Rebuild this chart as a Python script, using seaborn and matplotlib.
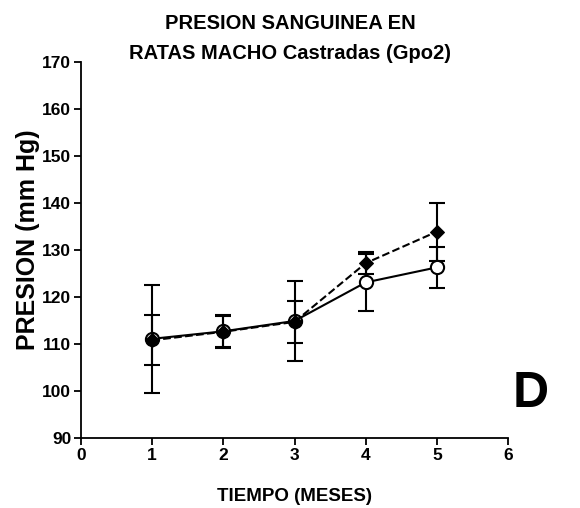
import matplotlib
matplotlib.use("Agg")
import matplotlib.pyplot as plt
import seaborn as sns
import pandas as pd

meses = [1, 2, 3, 4, 5]
circ_mean = [111.1, 112.7, 114.9, 123.1, 126.3]
circ_err = [11.5, 3.4, 8.6, 6.1, 4.4]
diam_mean = [110.8, 112.6, 114.7, 127.2, 133.9]
diam_err = [5.3, 3.4, 4.4, 2.4, 6.2]
xticks = [0, 1, 2, 3, 4, 5, 6]
yticks = [90, 100, 110, 120, 130, 140, 150, 160, 170]

sns.set_style("ticks")
plt.rcParams['font.family'] = ['Liberation Sans', 'DejaVu Sans']
plt.rcParams['font.weight'] = 'bold'
plt.rcParams['text.color'] = 'black'
plt.rcParams['axes.labelcolor'] = 'black'
plt.rcParams['xtick.color'] = 'black'
plt.rcParams['ytick.color'] = 'black'
plt.rcParams['axes.edgecolor'] = 'black'

fig = plt.figure(figsize=(5.8, 5.08), dpi=100)
ax = fig.add_axes([81/580, 70/508, 427/580, 376/508])

df_c = pd.DataFrame({"x": meses, "y": circ_mean})
df_d = pd.DataFrame({"x": meses, "y": diam_mean})

ax.errorbar(meses, circ_mean, yerr=circ_err, fmt='none', ecolor='black',
            elinewidth=1.5, capsize=6, capthick=1.5, zorder=2)
ax.errorbar(meses, diam_mean, yerr=diam_err, fmt='none', ecolor='black',
            elinewidth=1.5, capsize=6, capthick=1.5, zorder=2)
sns.lineplot(data=df_c, x="x", y="y", ax=ax, color='black', lw=1.5,
             marker='o', markersize=9.5, markerfacecolor='white',
             markeredgecolor='black', markeredgewidth=1.5, zorder=3)
sns.lineplot(data=df_d, x="x", y="y", ax=ax, color='black', lw=1.5,
             linestyle='--', marker='D', markersize=7, markerfacecolor='black',
             markeredgecolor='black', zorder=4)

ax.set_xlim(0, 6)
ax.set_ylim(90, 170)
ax.set_xticks(xticks)
ax.set_yticks(yticks)
ax.tick_params(axis='both', width=1.3, length=5, direction='out', pad=2, colors='black')
for lab in ax.get_xticklabels() + ax.get_yticklabels():
    lab.set_fontweight('bold')
    lab.set_fontsize(12.5)
for s in ['left', 'bottom']:
    ax.spines[s].set_linewidth(1.3)
    ax.spines[s].set_color('black')
sns.despine(ax=ax)

ax.set_xlabel("TIEMPO (MESES)", fontsize=13.5, fontweight='bold', labelpad=18)
ax.set_ylabel("PRESION (mm Hg)", fontsize=18, fontweight='bold')
ax.yaxis.set_label_coords(-0.096, 0.527)
fig.text(0.5, 0.972, "PRESION SANGUINEA EN\nRATAS MACHO Castradas (Gpo2)",
         ha='center', va='top', fontsize=14.5, fontweight='bold', linespacing=1.7)
ax.text(6.07, 99.3, "D", fontsize=36, fontweight='bold', ha='left', va='center',
        clip_on=False)

fig.savefig("out.png", dpi=100)
